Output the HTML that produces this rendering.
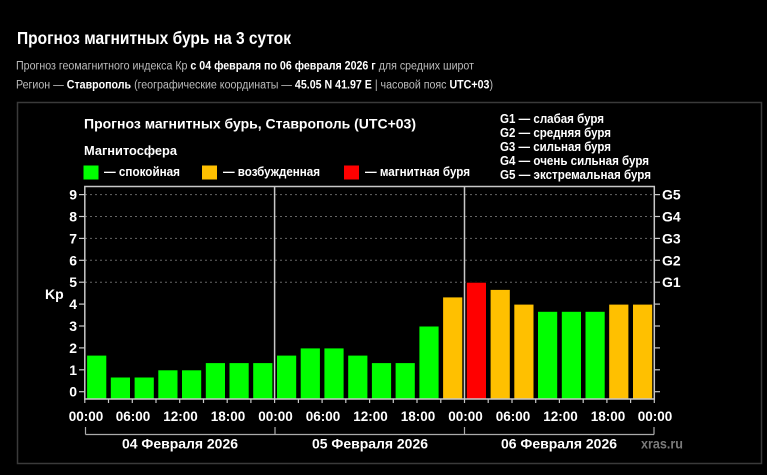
<!DOCTYPE html>
<html><head><meta charset="utf-8"><style>
html,body{margin:0;padding:0;background:#000;}
svg{display:block;}
text{font-family:"Liberation Sans",Arial,sans-serif;}
</style></head><body>
<svg width="767" height="475" viewBox="0 0 767 475" xmlns="http://www.w3.org/2000/svg">
<rect width="767" height="475" fill="#000"/>
<text x="17" y="44" font-size="17.5" font-weight="bold" fill="#fff" textLength="274" lengthAdjust="spacingAndGlyphs">Прогноз магнитных бурь на 3 суток</text>
<text x="16" y="69.5" font-size="11.5" fill="#bdbdbd" textLength="458" lengthAdjust="spacingAndGlyphs">Прогноз геомагнитного индекса Кр <tspan font-weight="bold" fill="#fff">с 04 февраля по 06 февраля 2026 г</tspan> для средних широт</text>
<text x="16" y="88.5" font-size="11.5" fill="#bdbdbd" textLength="477" lengthAdjust="spacingAndGlyphs">Регион — <tspan font-weight="bold" fill="#fff">Ставрополь</tspan> (географические координаты — <tspan font-weight="bold" fill="#fff">45.05 N 41.97 E</tspan> | часовой пояс <tspan font-weight="bold" fill="#fff">UTC+03</tspan>)</text>

<rect x="17.5" y="102.5" width="744" height="361" fill="none" stroke="#3a3a3a" stroke-width="1.5"/>

<text x="84" y="128.5" font-size="14" font-weight="bold" fill="#fff" textLength="332" lengthAdjust="spacingAndGlyphs">Прогноз магнитных бурь, Ставрополь (UTC+03)</text>
<text x="84" y="155" font-size="13" font-weight="bold" fill="#fff" textLength="93" lengthAdjust="spacingAndGlyphs">Магнитосфера</text>
<rect x="83.5" y="165.5" width="15" height="14" fill="#00ff00"/>
<text x="104" y="176" font-size="13" font-weight="bold" fill="#fff" textLength="76" lengthAdjust="spacingAndGlyphs">— спокойная</text>
<rect x="202" y="165.5" width="15" height="14" fill="#ffc000"/>
<text x="223" y="176" font-size="13" font-weight="bold" fill="#fff" textLength="97" lengthAdjust="spacingAndGlyphs">— возбужденная</text>
<rect x="344" y="165.5" width="15" height="14" fill="#ff0000"/>
<text x="365" y="176" font-size="13" font-weight="bold" fill="#fff" textLength="105" lengthAdjust="spacingAndGlyphs">— магнитная буря</text>

<g font-size="13" font-weight="bold" fill="#fff">
<text x="500" y="123" textLength="104" lengthAdjust="spacingAndGlyphs">G1 — слабая буря</text>
<text x="500" y="137" textLength="111" lengthAdjust="spacingAndGlyphs">G2 — средняя буря</text>
<text x="500" y="151" textLength="111" lengthAdjust="spacingAndGlyphs">G3 — сильная буря</text>
<text x="500" y="165" textLength="149" lengthAdjust="spacingAndGlyphs">G4 — очень сильная буря</text>
<text x="500" y="179" textLength="151" lengthAdjust="spacingAndGlyphs">G5 — экстремальная буря</text>
</g>

<!-- grid -->
<g stroke="#666" stroke-width="1" stroke-dasharray="2,3">
<line x1="85" y1="194.6" x2="654" y2="194.6"/>
<line x1="85" y1="216.5" x2="654" y2="216.5"/>
<line x1="85" y1="238.4" x2="654" y2="238.4"/>
<line x1="85" y1="260.3" x2="654" y2="260.3"/>
<line x1="85" y1="282.2" x2="654" y2="282.2"/>
</g>

<!-- bars -->
<g stroke="#000" stroke-width="1">
<rect x="86.6" y="355.1" width="20.2" height="43.9" fill="#00ff00"/>
<rect x="110.3" y="377.0" width="20.2" height="22.0" fill="#00ff00"/>
<rect x="134.1" y="377.0" width="20.2" height="22.0" fill="#00ff00"/>
<rect x="157.8" y="369.8" width="20.2" height="29.2" fill="#00ff00"/>
<rect x="181.5" y="369.8" width="20.2" height="29.2" fill="#00ff00"/>
<rect x="205.3" y="362.6" width="20.2" height="36.4" fill="#00ff00"/>
<rect x="229.0" y="362.6" width="20.2" height="36.4" fill="#00ff00"/>
<rect x="252.7" y="362.6" width="20.2" height="36.4" fill="#00ff00"/>
<rect x="276.5" y="355.1" width="20.2" height="43.9" fill="#00ff00"/>
<rect x="300.2" y="347.9" width="20.2" height="51.1" fill="#00ff00"/>
<rect x="323.9" y="347.9" width="20.2" height="51.1" fill="#00ff00"/>
<rect x="347.7" y="355.1" width="20.2" height="43.9" fill="#00ff00"/>
<rect x="371.4" y="362.6" width="20.2" height="36.4" fill="#00ff00"/>
<rect x="395.1" y="362.6" width="20.2" height="36.4" fill="#00ff00"/>
<rect x="418.9" y="326.0" width="20.2" height="73.0" fill="#00ff00"/>
<rect x="442.6" y="296.9" width="20.2" height="102.1" fill="#ffc000"/>
<rect x="466.3" y="282.2" width="20.2" height="116.8" fill="#ff0000"/>
<rect x="490.1" y="289.4" width="20.2" height="109.6" fill="#ffc000"/>
<rect x="513.8" y="304.1" width="20.2" height="94.9" fill="#ffc000"/>
<rect x="537.5" y="311.3" width="20.2" height="87.7" fill="#00ff00"/>
<rect x="561.3" y="311.3" width="20.2" height="87.7" fill="#00ff00"/>
<rect x="585.0" y="311.3" width="20.2" height="87.7" fill="#00ff00"/>
<rect x="608.7" y="304.1" width="20.2" height="94.9" fill="#ffc000"/>
<rect x="632.5" y="304.1" width="20.2" height="94.9" fill="#ffc000"/>
</g>

<!-- frame -->
<g stroke="#c8c8c8" stroke-width="1.5" fill="none">
<rect x="84.8" y="186.5" width="569.5" height="212.5"/>
<line x1="274.6" y1="186.5" x2="274.6" y2="399"/>
<line x1="464.5" y1="186.5" x2="464.5" y2="399"/>
</g>

<!-- left ticks -->
<g stroke="#c8c8c8" stroke-width="1.2">
<line x1="79" y1="391.7" x2="84.8" y2="391.7"/>
<line x1="79" y1="369.8" x2="84.8" y2="369.8"/>
<line x1="79" y1="347.9" x2="84.8" y2="347.9"/>
<line x1="79" y1="326.0" x2="84.8" y2="326.0"/>
<line x1="79" y1="304.1" x2="84.8" y2="304.1"/>
<line x1="79" y1="282.2" x2="84.8" y2="282.2"/>
<line x1="79" y1="260.3" x2="84.8" y2="260.3"/>
<line x1="79" y1="238.4" x2="84.8" y2="238.4"/>
<line x1="79" y1="216.5" x2="84.8" y2="216.5"/>
<line x1="79" y1="194.6" x2="84.8" y2="194.6"/>
<line x1="654.3" y1="391.7" x2="660" y2="391.7"/>
<line x1="654.3" y1="369.8" x2="660" y2="369.8"/>
<line x1="654.3" y1="347.9" x2="660" y2="347.9"/>
<line x1="654.3" y1="326.0" x2="660" y2="326.0"/>
<line x1="654.3" y1="304.1" x2="660" y2="304.1"/>
<line x1="654.3" y1="282.2" x2="660" y2="282.2"/>
<line x1="654.3" y1="260.3" x2="660" y2="260.3"/>
<line x1="654.3" y1="238.4" x2="660" y2="238.4"/>
<line x1="654.3" y1="216.5" x2="660" y2="216.5"/>
<line x1="654.3" y1="194.6" x2="660" y2="194.6"/>
</g>
<g font-size="14" font-weight="bold" fill="#fff" text-anchor="end">
<text x="77" y="396.7">0</text>
<text x="77" y="374.8">1</text>
<text x="77" y="352.9">2</text>
<text x="77" y="331.0">3</text>
<text x="77" y="309.1">4</text>
<text x="77" y="287.2">5</text>
<text x="77" y="265.3">6</text>
<text x="77" y="243.4">7</text>
<text x="77" y="221.5">8</text>
<text x="77" y="199.6">9</text>
</g>
<text x="45" y="299" font-size="14" font-weight="bold" fill="#fff">Kp</text>
<g font-size="14" font-weight="bold" fill="#fff">
<text x="662" y="287.2">G1</text>
<text x="662" y="265.3">G2</text>
<text x="662" y="243.4">G3</text>
<text x="662" y="221.5">G4</text>
<text x="662" y="199.6">G5</text>
</g>

<!-- bottom ticks -->
<g stroke="#c8c8c8" stroke-width="1.2">
<line x1="84.8" y1="399" x2="84.8" y2="403"/><line x1="108.5" y1="399" x2="108.5" y2="403"/>
<line x1="132.3" y1="399" x2="132.3" y2="403"/><line x1="156.0" y1="399" x2="156.0" y2="403"/>
<line x1="179.7" y1="399" x2="179.7" y2="403"/><line x1="203.5" y1="399" x2="203.5" y2="403"/>
<line x1="227.2" y1="399" x2="227.2" y2="403"/><line x1="250.9" y1="399" x2="250.9" y2="403"/>
<line x1="274.6" y1="399" x2="274.6" y2="403"/><line x1="298.4" y1="399" x2="298.4" y2="403"/>
<line x1="322.1" y1="399" x2="322.1" y2="403"/><line x1="345.8" y1="399" x2="345.8" y2="403"/>
<line x1="369.6" y1="399" x2="369.6" y2="403"/><line x1="393.3" y1="399" x2="393.3" y2="403"/>
<line x1="417.0" y1="399" x2="417.0" y2="403"/><line x1="440.8" y1="399" x2="440.8" y2="403"/>
<line x1="464.5" y1="399" x2="464.5" y2="403"/><line x1="488.2" y1="399" x2="488.2" y2="403"/>
<line x1="512.0" y1="399" x2="512.0" y2="403"/><line x1="535.7" y1="399" x2="535.7" y2="403"/>
<line x1="559.4" y1="399" x2="559.4" y2="403"/><line x1="583.2" y1="399" x2="583.2" y2="403"/>
<line x1="606.9" y1="399" x2="606.9" y2="403"/><line x1="630.6" y1="399" x2="630.6" y2="403"/>
<line x1="654.3" y1="399" x2="654.3" y2="403"/>
</g>
<g font-size="13.5" font-weight="bold" fill="#fff" text-anchor="middle">
<text x="86" y="421">00:00</text>
<text x="133" y="421">06:00</text>
<text x="180.5" y="421">12:00</text>
<text x="228" y="421">18:00</text>
<text x="275.5" y="421">00:00</text>
<text x="323" y="421">06:00</text>
<text x="370.5" y="421">12:00</text>
<text x="418" y="421">18:00</text>
<text x="465.5" y="421">00:00</text>
<text x="513" y="421">06:00</text>
<text x="560.5" y="421">12:00</text>
<text x="608" y="421">18:00</text>
<text x="655" y="421">00:00</text>
</g>

<!-- day brackets -->
<g stroke="#aaa" stroke-width="1.2" fill="none">
<line x1="85.5" y1="434.5" x2="654" y2="434.5"/>
<line x1="85.5" y1="427" x2="85.5" y2="434.5"/>
<line x1="275" y1="427" x2="275" y2="434.5"/>
<line x1="464.5" y1="427" x2="464.5" y2="434.5"/>
<line x1="654" y1="427" x2="654" y2="434.5"/>
</g>
<g font-size="13.5" font-weight="bold" fill="#fff" text-anchor="middle">
<text x="180" y="448.5" textLength="116" lengthAdjust="spacingAndGlyphs">04 Февраля 2026</text>
<text x="370" y="448.5" textLength="116" lengthAdjust="spacingAndGlyphs">05 Февраля 2026</text>
<text x="559" y="448.5" textLength="116" lengthAdjust="spacingAndGlyphs">06 Февраля 2026</text>
</g>
<text x="641" y="448.5" font-size="13.5" font-weight="bold" fill="#7a7a7a" textLength="42" lengthAdjust="spacingAndGlyphs">xras.ru</text>
</svg>
</body></html>
